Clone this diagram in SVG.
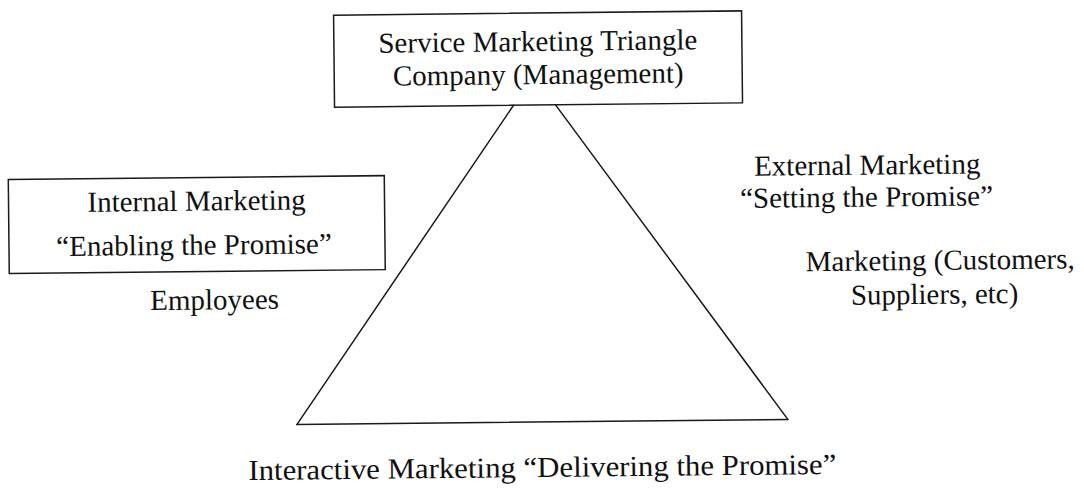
<svg xmlns="http://www.w3.org/2000/svg" width="1084" height="491" viewBox="0 0 1084 491">
  <style>
    .box { fill: none; stroke: #1a1a1a; stroke-width: 1.5; }
    .edge { fill: none; stroke: #1a1a1a; stroke-width: 1.5; stroke-linecap: round; }
    text { font-family: "Liberation Serif", "Times New Roman", serif; font-size: 29px; fill: #111; text-anchor: middle; }
  </style>
  <rect width="1084" height="491" fill="#ffffff"/>
  <!-- whole page sits with a slight tilt -->
  <g transform="rotate(-0.6 540 245)">
    <g id="connectors">
      <line class="edge" x1="515" y1="105" x2="295" y2="422"/>
      <line class="edge" x1="557" y1="105" x2="786" y2="422"/>
      <line class="edge" x1="295" y1="422" x2="786" y2="422"/>
    </g>
    <g id="company">
      <rect class="box" x="336" y="13" width="408" height="92"/>
      <text x="540" y="51">Service Marketing Triangle</text>
      <text x="540" y="84">Company (Management)</text>
    </g>
    <g id="internal">
      <rect class="box" x="9" y="174" width="376" height="94"/>
      <text x="197" y="207">Internal Marketing</text>
      <text x="194" y="251">“Enabling the Promise”</text>
    </g>
    <g id="employees">
      <text x="214" y="306">Employees</text>
    </g>
    <g id="external">
      <text x="868" y="178">External Marketing</text>
      <text x="867" y="210">“Setting the Promise”</text>
    </g>
    <g id="customers">
      <text x="940" y="274">Marketing (Customers,</text>
      <text x="934" y="308">Suppliers, etc)</text>
    </g>
    <g id="interactive">
      <text x="540" y="477" textLength="588" lengthAdjust="spacingAndGlyphs">Interactive Marketing “Delivering the Promise”</text>
    </g>
  </g>
</svg>
